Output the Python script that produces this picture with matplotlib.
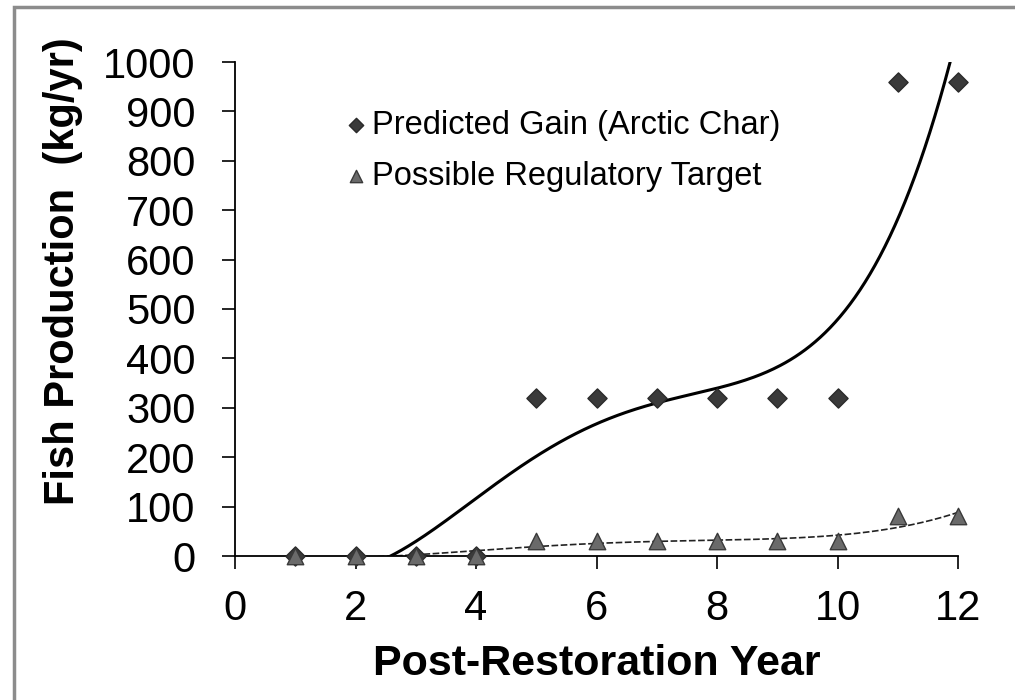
import numpy as np
import matplotlib
matplotlib.use('Agg')
import matplotlib.pyplot as plt
from matplotlib.patches import Rectangle

plt.rcParams['font.family'] = ['Liberation Sans', 'DejaVu Sans']

# data
years = [1, 2, 3, 4, 5, 6, 7, 8, 9, 10, 11, 12]
gain = [0, 0, 0, 0, 320, 320, 320, 320, 320, 320, 960, 960]
target = [0, 0, 0, 0, 30, 30, 30, 30, 30, 30, 80, 80]
x_ticks = [0, 2, 4, 6, 8, 10, 12]
y_ticks = [0, 100, 200, 300, 400, 500, 600, 700, 800, 900, 1000]

W, H = 1015, 700
fig = plt.figure(figsize=(W / 100, H / 100), dpi=100)
# grey frame round the chart area (right/bottom edges fall outside the picture)
fig.patches.append(Rectangle((14 / W, -0.1), 1.2, 1.1 - 7 / H, transform=fig.transFigure,
                             fill=False, edgecolor='#8c8c8c', linewidth=2.5))

ax = fig.add_axes([235 / W, 1 - 556 / H, (958 - 235) / W, (556 - 62) / H])

# 4th order polynomial trend lines (as in Excel)
xs = np.linspace(1, 12, 400)
p_gain = np.polyfit(years, gain, 4)
p_target = np.polyfit(years, target, 4)
ax.plot(xs, np.polyval(p_gain, xs), color='black', lw=2.2, zorder=2)
ax.plot(xs, np.polyval(p_target, xs), color='#222222', lw=1.2, ls=(0, (4, 1.5)), zorder=2)

ax.scatter(years, gain, marker='D', s=95, color='#3a3a3a', edgecolor='#2a2a2a',
           zorder=3, clip_on=False, label='Predicted Gain (Arctic Char)')
ax.scatter(years, target, marker='^', s=140, color='#6a6a6a', edgecolor='#3a3a3a',
           zorder=3, clip_on=False, label='Possible Regulatory Target')

ax.set_xlim(0, 12)
ax.set_ylim(0, 1000)
ax.set_xticks(x_ticks)
ax.set_yticks(y_ticks)
ax.tick_params(axis='both', direction='out', length=9.5, width=1.2, labelsize=30,
               colors='black')
ax.tick_params(axis='y', pad=19)
ax.tick_params(axis='x', pad=14)
for s in ['top', 'right']:
    ax.spines[s].set_visible(False)
for s in ['left', 'bottom']:
    ax.spines[s].set_linewidth(1.3)

fig.text(597 / W, 1 - 664 / H, 'Post-Restoration Year', fontsize=31, fontweight='bold',
         ha='center', va='center')
fig.text(63 / W, 1 - 271 / H, 'Fish Production  (kg/yr)', fontsize=30, fontweight='bold',
         ha='center', va='center', rotation=90)

leg = ax.legend(loc='upper left', bbox_to_anchor=(343 / W, 1 - 110 / H),
                bbox_transform=fig.transFigure, frameon=False, borderpad=0,
                fontsize=23.5, markerscale=0.75, handletextpad=0.1, labelspacing=0.6,
                handlelength=0.8, borderaxespad=0)

fig.savefig('out.png', dpi=100)
